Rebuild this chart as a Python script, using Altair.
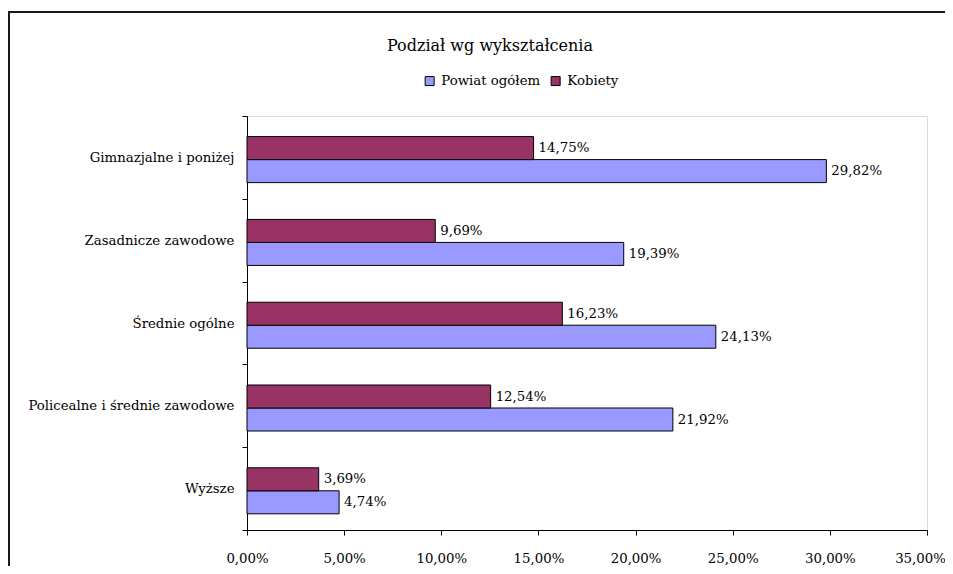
import altair as alt
import pandas as pd

categories = [
    "Gimnazjalne i poniżej",
    "Zasadnicze zawodowe",
    "Średnie ogólne",
    "Policealne i średnie zawodowe",
    "Wyższe",
]
powiat = [29.82, 19.39, 24.13, 21.92, 4.74]
kobiety = [14.75, 9.69, 16.23, 12.54, 3.69]
series = ["Powiat ogółem", "Kobiety"]
colors = ["#9999FF", "#993366"]
x_ticks = [0, 5, 10, 15, 20, 25, 30, 35]

rows = []
for c, p, k in zip(categories, powiat, kobiety):
    rows.append({"cat": c, "series": "Powiat ogółem", "value": p})
    rows.append({"cat": c, "series": "Kobiety", "value": k})
df = pd.DataFrame(rows)

FONT = "DejaVu Serif"
fmt = "replace(format(datum.value, '.2f'), '.', ',') + '%'"

base = alt.Chart(df).encode(
    y=alt.Y(
        "cat:N",
        sort=categories,
        scale=alt.Scale(paddingInner=0, paddingOuter=0),
        axis=alt.Axis(
            title=None, tickBand="extent", labelFont=FONT, labelFontSize=13.3,
            labelColor="black", tickColor="black", domainColor="black",
            tickSize=5, labelPadding=8, labelLimit=400, domainWidth=1,
        ),
    ),
    yOffset=alt.YOffset(
        "series:N", sort=["Kobiety", "Powiat ogółem"],
        scale=alt.Scale(paddingInner=0, paddingOuter=0.8, align=0.56),
    ),
)

bars = base.mark_bar(stroke="black", strokeWidth=1).encode(
    x=alt.X(
        "value:Q",
        scale=alt.Scale(domain=[0, 35], nice=False),
        axis=alt.Axis(
            values=x_ticks, labelExpr=fmt, title=None, grid=False,
            labelFont=FONT, labelFontSize=13.3, labelColor="black",
            tickColor="black", domainColor="black", tickSize=5,
            labelPadding=16, domainWidth=1, labelFlush=False,
            labelOffset={"condition": {"test": "datum.value == 35", "value": -7}, "value": 0},
        ),
    ),
    color=alt.Color(
        "series:N",
        scale=alt.Scale(domain=series, range=colors),
        legend=alt.Legend(
            title=None, orient="none", legendX=176, legendY=-42,
            direction="horizontal", symbolType="square", symbolSize=81,
            symbolStrokeColor="black", symbolStrokeWidth=1, symbolOpacity=1,
            labelFont=FONT, labelFontSize=13.3, labelColor="black",
            columnPadding=8, labelOffset=5,
        ),
    ),
)

labels = base.mark_text(
    align="left", baseline="middle", dx=5, font=FONT, fontSize=13.3, color="black"
).encode(
    x=alt.X("value:Q"),
    text=alt.Text("lbl:N"),
).transform_calculate(lbl="replace(format(datum.value, '.2f'), '.', ',') + '%'")

frame_data = alt.Data(values=[{"k": 0}])
left_line = alt.Chart(frame_data).mark_rect(color="#1a1a1a", strokeWidth=0).encode(
    x=alt.value(-239), x2=alt.value(-237), y=alt.value(-105), y2=alt.value(480)
)
top_line = alt.Chart(frame_data).mark_rect(color="#1a1a1a", strokeWidth=0).encode(
    x=alt.value(-239), x2=alt.value(698), y=alt.value(-105), y2=alt.value(-103)
)

chart = alt.layer(bars, labels, left_line, top_line).properties(
    width=680,
    height=414,
    title=alt.TitleParams(
        "Podział wg wykształcenia", font=FONT, fontSize=16, fontWeight="normal",
        color="black", anchor="middle", dx=-97, offset=0, dy=43,
    ),
    autosize=alt.AutoSizeParams(type="none"),
    padding={"left": 239, "top": 108, "right": 18, "bottom": 36},
).configure_view(stroke="#808080", strokeWidth=2).configure(background="white")

chart.save("out.html", embed_options={"renderer": "svg", "actions": False})
